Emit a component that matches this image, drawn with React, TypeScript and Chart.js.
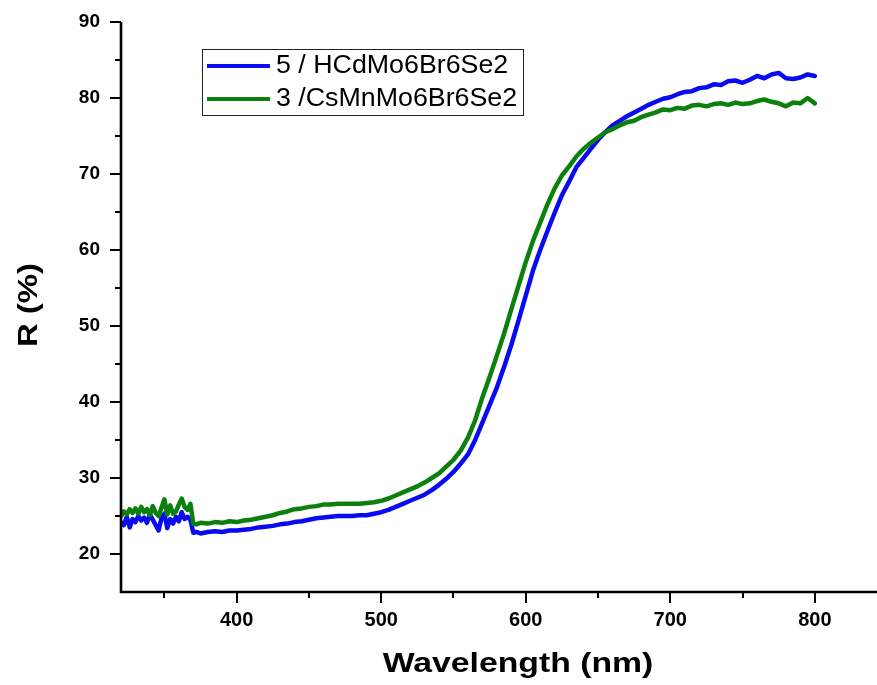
import { useEffect, useRef } from "react";
import { Chart, registerables } from "chart.js";

Chart.register(...registerables);

// Wavelength (nm)
const wavelengths = [
  320, 322, 324, 326, 328, 330, 332, 334, 336, 338,
  340, 342, 344, 346, 348, 350, 352, 354, 356, 358,
  360, 362, 364, 366, 368, 370, 372,
  375, 380, 385, 390, 395, 400, 405, 410, 415, 420,
  425, 430, 435, 440, 445, 450, 455, 460, 465, 470,
  475, 480, 485, 490, 495, 500, 505, 510, 515, 520,
  525, 530, 535, 540, 545, 550, 555, 560, 565, 570,
  575, 580, 585, 590, 595, 600, 605, 610, 615, 620,
  625, 630, 635, 640, 645, 650, 655, 660, 665, 670,
  675, 680, 685, 690, 695, 700, 705, 710, 715, 720,
  725, 730, 735, 740, 745, 750, 755, 760, 765, 770,
  775, 780, 785, 790, 795, 800,
];

// 5 / HCdMo6Br6Se2  R (%)
const seriesHCd = [
  24.2, 23.8, 24.9, 23.5, 24.6, 24.2, 25.0, 24.4, 24.8, 24.1,
  25.2, 24.5, 23.8, 23.1, 24.7, 25.3, 23.4, 24.6, 24.0, 24.9,
  24.3, 25.5, 24.6, 24.9, 24.5, 22.8, 22.9,
  22.7, 22.9, 23.0, 22.9, 23.1, 23.1, 23.2, 23.3, 23.5, 23.6,
  23.7, 23.9, 24.0, 24.2, 24.3, 24.5, 24.7, 24.8, 24.9, 25.0,
  25.0, 25.0, 25.1, 25.1, 25.3, 25.5, 25.8, 26.2, 26.6, 27.0,
  27.4, 27.8, 28.4, 29.1, 29.9, 30.8, 31.9, 33.1, 35.0, 37.3,
  39.6, 41.9, 44.6, 47.5, 50.7, 54.0, 57.3, 60.0, 62.5, 64.9,
  67.2, 69.0, 70.9, 72.1, 73.3, 74.5, 75.5, 76.4, 77.0, 77.6,
  78.1, 78.6, 79.1, 79.5, 79.9, 80.1, 80.5, 80.8, 80.9, 81.3,
  81.4, 81.8, 81.7, 82.2, 82.3, 82.0, 82.4, 82.9, 82.6, 83.1,
  83.3, 82.6, 82.5, 82.7, 83.1, 82.9,
];

// 3 /CsMnMo6Br6Se2  R (%)
const seriesCsMn = [
  25.0, 25.6, 25.2, 25.9, 25.4, 26.0, 25.3, 26.2, 25.5, 25.9,
  25.1, 26.3, 25.4, 25.0, 26.1, 27.2, 25.2, 26.4, 25.3, 25.6,
  26.5, 27.3, 26.2, 25.8, 26.6, 24.0, 23.9,
  24.1, 24.0, 24.2, 24.1, 24.3, 24.2, 24.4, 24.5, 24.7, 24.9,
  25.1, 25.4, 25.6, 25.9, 26.0, 26.2, 26.3, 26.5, 26.5, 26.6,
  26.6, 26.6, 26.6, 26.7, 26.8, 27.0, 27.3, 27.7, 28.1, 28.5,
  28.9, 29.4, 30.0, 30.6, 31.5, 32.4, 33.6, 35.3, 37.6, 40.6,
  43.3, 46.1, 49.0, 52.2, 55.3, 58.4, 61.2, 63.6, 66.0, 68.1,
  69.8, 71.0, 72.3, 73.3, 74.1, 74.8, 75.5, 75.9, 76.4, 76.8,
  77.0, 77.5, 77.8, 78.1, 78.5, 78.4, 78.7, 78.6, 79.0, 79.1,
  78.9, 79.2, 79.3, 79.1, 79.4, 79.2, 79.3, 79.6, 79.8, 79.5,
  79.3, 78.9, 79.4, 79.3, 80.0, 79.3,
];

const seriesLabels = ["5 / HCdMo6Br6Se2", "3 /CsMnMo6Br6Se2"];
const seriesColors = ["#0a0af0", "#0c800c"];

const xMajorTicks = [400, 500, 600, 700, 800];
const xMinorTicks = [350, 450, 550, 650, 750];
const yMajorTicks = [20, 30, 40, 50, 60, 70, 80, 90];
const yMinorTicks = [25, 35, 45, 55, 65, 75, 85];

const xTitle = "Wavelength (nm)";
const yTitle = "R (%)";

const FONT = "'Liberation Sans', Arial, sans-serif";

const framePlugin = {
  id: "frame",
  afterDraw(chart: any) {
    const { ctx, chartArea: a } = chart;
    const xs = chart.scales.x;
    const ys = chart.scales.y;
    ctx.save();
    ctx.strokeStyle = "#000";
    ctx.fillStyle = "#000";

    // axes
    ctx.lineWidth = 2.6;
    ctx.beginPath();
    ctx.moveTo(a.left, a.top);
    ctx.lineTo(a.left, a.bottom);
    ctx.lineTo(a.right, a.bottom);
    ctx.stroke();

    // ticks
    ctx.lineWidth = 2;
    ctx.beginPath();
    yMajorTicks.forEach((v) => {
      const p = Math.round(ys.getPixelForValue(v));
      ctx.moveTo(a.left - 11, p);
      ctx.lineTo(a.left, p);
    });
    yMinorTicks.forEach((v) => {
      const p = Math.round(ys.getPixelForValue(v));
      ctx.moveTo(a.left - 6, p);
      ctx.lineTo(a.left, p);
    });
    xMajorTicks.forEach((v) => {
      const p = Math.round(xs.getPixelForValue(v));
      ctx.moveTo(p, a.bottom);
      ctx.lineTo(p, a.bottom + 11);
    });
    xMinorTicks.forEach((v) => {
      const p = Math.round(xs.getPixelForValue(v));
      ctx.moveTo(p, a.bottom);
      ctx.lineTo(p, a.bottom + 6);
    });
    ctx.stroke();

    // axis titles
    ctx.font = `bold 27px ${FONT}`;
    ctx.textAlign = "center";
    ctx.textBaseline = "alphabetic";
    ctx.save();
    ctx.translate(518, 672);
    ctx.scale(1.25, 1);
    ctx.fillText(xTitle, 0, 0);
    ctx.restore();

    ctx.save();
    ctx.translate(36.5, 305);
    ctx.rotate(-Math.PI / 2);
    ctx.scale(1.22, 1);
    ctx.fillText(yTitle, 0, 0);
    ctx.restore();

    // legend
    const lx = 202, ly = 49, lw = 321, lh = 66;
    ctx.lineWidth = 1;
    ctx.strokeStyle = "#222";
    ctx.strokeRect(lx + 0.5, ly + 0.5, lw, lh);
    const rows = [66, 99];
    ctx.font = `26px ${FONT}`;
    ctx.textAlign = "left";
    ctx.textBaseline = "middle";
    rows.forEach((ry, i) => {
      ctx.strokeStyle = seriesColors[i];
      ctx.lineWidth = 4;
      ctx.beginPath();
      ctx.moveTo(207, ry);
      ctx.lineTo(270, ry);
      ctx.stroke();
      ctx.fillStyle = "#000";
      ctx.save();
      ctx.translate(276, ry);
      ctx.scale(1.03, 1);
      ctx.fillText(seriesLabels[i], 0, 0);
      ctx.restore();
    });
    ctx.restore();
  },
};

export default function App() {
  const ref = useRef<HTMLCanvasElement>(null);

  useEffect(() => {
    if (!ref.current) return;
    const chart = new Chart(ref.current, {
      type: "line",
      data: {
        datasets: [
          {
            label: seriesLabels[0],
            data: wavelengths.map((w, i) => ({ x: w, y: seriesHCd[i] })),
            borderColor: seriesColors[0],
            backgroundColor: seriesColors[0],
            borderWidth: 4.5,
            borderJoinStyle: "round",
            borderCapStyle: "round",
            pointRadius: 0,
            tension: 0,
            order: 1,
          },
          {
            label: seriesLabels[1],
            data: wavelengths.map((w, i) => ({ x: w, y: seriesCsMn[i] })),
            borderColor: seriesColors[1],
            backgroundColor: seriesColors[1],
            borderWidth: 4.5,
            borderJoinStyle: "round",
            borderCapStyle: "round",
            pointRadius: 0,
            tension: 0,
            order: 0,
          },
        ],
      },
      options: {
        animation: false,
        responsive: false,
        devicePixelRatio: 1,
        events: [],
        layout: { padding: { top: 22, left: 0, right: 0, bottom: 0 } },
        plugins: {
          legend: { display: false },
          tooltip: { enabled: false },
          title: { display: false },
        },
        scales: {
          x: {
            type: "linear",
            min: 320,
            max: 843,
            grid: { display: false, drawTicks: false },
            border: { display: false },
            afterBuildTicks: (s: any) => {
              s.ticks = xMajorTicks.map((v) => ({ value: v }));
            },
            afterFit: (s: any) => {
              s.height = 93;
              s.paddingLeft = 0;
              s.paddingRight = 0;
            },
            ticks: {
              autoSkip: false,
              maxRotation: 0,
              padding: 16,
              color: "#000",
              font: { family: FONT, size: 20, weight: "bold" },
            },
          },
          y: {
            type: "linear",
            min: 15,
            max: 90,
            grid: { display: false, drawTicks: false },
            border: { display: false },
            afterBuildTicks: (s: any) => {
              s.ticks = yMajorTicks.map((v) => ({ value: v }));
            },
            afterFit: (s: any) => {
              s.width = 121;
              s.paddingTop = 0;
              s.paddingBottom = 0;
            },
            ticks: {
              autoSkip: false,
              padding: 21,
              color: "#000",
              font: { family: FONT, size: 19, weight: "bold" },
            },
          },
        },
      },
      plugins: [framePlugin],
    });
    return () => chart.destroy();
  }, []);

  return (
    <div style={{ position: "absolute", left: 0, top: 0, width: 877, height: 685, background: "#fff" }}>
      <canvas ref={ref} width={877} height={685} style={{ display: "block" }} />
    </div>
  );
}
